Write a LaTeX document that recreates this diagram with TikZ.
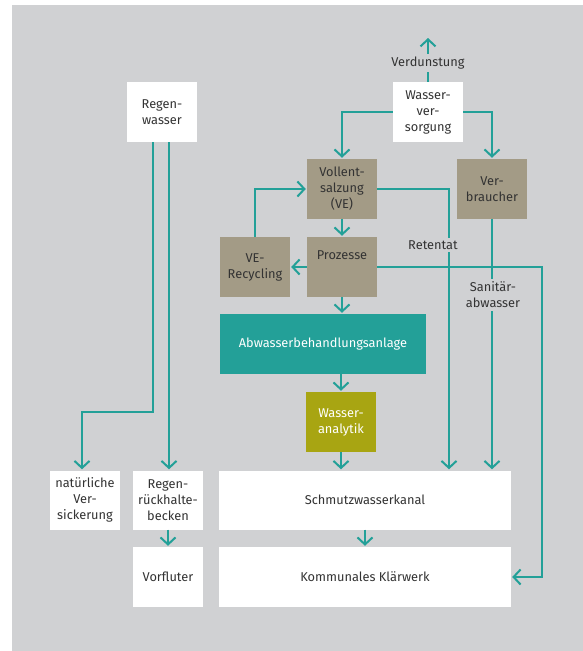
\documentclass[tikz,border=0pt]{standalone}
\usepackage{fontspec}
\setmainfont{Fira Sans}
\usetikzlibrary{arrows.meta, calc}
\definecolor{bggrey}{RGB}{208,209,211}
\definecolor{flowteal}{RGB}{35,160,152}
\definecolor{unitbrown}{RGB}{163,155,134}
\definecolor{labolive}{RGB}{168,165,18}
\definecolor{txtgrey}{RGB}{51,51,51}
\tikzset{box/.style={rectangle, fill=white, text=txtgrey, minimum width=70pt,
    minimum height=60pt, inner sep=1pt, align=center,
    font=\fontsize{12.8}{16}\selectfont},
    unit box/.style={box, fill=unitbrown},
    wide box/.style={box, minimum width=292pt},
    flow/.style={draw=flowteal, line width=2pt,
    -{Straight Barb[length=7pt,width=15pt]}, shorten >=1pt},
    pipe/.style={draw=flowteal, line width=2pt},
    tag/.style={fill=bggrey, text=txtgrey, inner sep=3pt, align=center,
    font=\fontsize{12.8}{16}\selectfont}}

\begin{document}
\begin{tikzpicture}[x=1pt, y=-1pt]
  \useasboundingbox (0,0) rectangle (583,651);
  \fill[bggrey] (12,5) rectangle (583,651);

  % Nodes
  \node[box] (regen) at (162,112) {Regen-\\wasser};
  \node[box] (wvers) at (428,112) {Wasser-\\ver-\\sorgung};
  \node[unit box] (ve) at (342,189) {Vollent-\\salzung\\(VE)};
  \node[unit box] (verbr) at (492,189) {Ver-\\braucher};
  \node[unit box] (verec) at (255,267) {VE-\\Recycling};
  \node[unit box, text depth=23pt] (proz) at (342,267) {Prozesse};
  \node[box, minimum width=206pt, fill=flowteal, text=white] (abw) at (323,344)
    {Abwasserbehandlungsanlage};
  \node[box, fill=labolive, text=white] (wana) at (341,422) {Wasser-\\analytik};
  \node[box, minimum height=59pt] (natv) at (85,500) {natürliche\\Ver-\\sickerung};
  \node[box, minimum height=59pt] (rrb) at (168,500) {Regen-\\rückhalte-\\becken};
  \node[box] (vorf) at (168,577) {Vorfluter};
  \node[wide box, minimum height=59pt] (skanal) at (365,500) {Schmutzwasserkanal};
  \node[wide box] (klaer) at (365,577) {Kommunales Klärwerk};

  % Bends
  \coordinate (verdtop) at (428,37);
  \coordinate (retbend) at (449,189);
  \coordinate (kbend) at (542,267);
  \coordinate (natbend) at (82,412);

  % Supply side
  \draw[flow] (wvers.north) -- (verdtop);
  \draw[flow] (wvers.west) -| (ve.north);
  \draw[flow] (wvers.east) -| (verbr.north);
  \draw[flow] (ve.south) -- (proz.north);
  \draw[flow] (verec.north) |- (ve.west);
  \draw[flow] (proz.west) -- (verec.east);

  % Waste water
  \draw[flow] (ve.east) -- (retbend) -- (retbend |- skanal.north);
  \draw[flow] (verbr.south) -- (verbr.south |- skanal.north);
  \draw[flow] (proz.east) -- (kbend) |- (klaer.east);
  \draw[flow] (proz.south) -- (proz.south |- abw.north);
  \draw[flow] (wana.north |- abw.south) -- (wana.north);
  \draw[flow] (wana.south) -- (wana.south |- skanal.north);
  \draw[flow] (skanal.south) -- (klaer.north);

  % Rain water
  \draw[flow] ([xshift=-9pt]regen.south) |- (natbend) -- (natbend |- natv.north);
  \draw[flow] ([xshift=7pt]regen.south) -- ([xshift=7pt]regen.south |- rrb.north);
  \draw[flow] (rrb.south) -- (vorf.north);

  % Labels on the lines
  \node[tag] (verd) at (428,63) {Verdunstung};
  \node[tag] (retentat) at (433,245) {Retentat};
  \node[tag] (sanit) at (493,295) {Sanitär-\\abwasser};
\end{tikzpicture}
\end{document}
